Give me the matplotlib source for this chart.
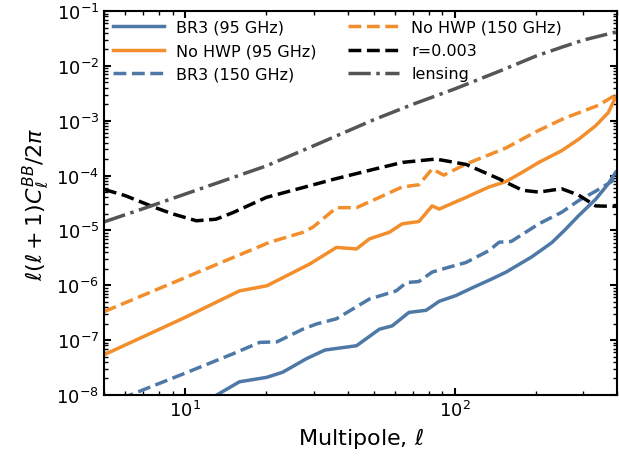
"""
Recreate the BB power spectrum comparison (BR3 vs No HWP, 95/150 GHz) on log-log axes.
Saves out.png.
"""

import matplotlib

matplotlib.use("Agg")
import matplotlib.pyplot as plt

# --- data -------------------------------------------------------------------
ell_lensing = [5, 7, 10, 20, 30, 50, 70, 100, 150, 200, 250, 300, 400]
cl_lensing = [1.43e-5, 2.5e-5, 4.6e-5, 1.5e-4, 3.5e-4, 1.04e-3, 2.0e-3,
              3.8e-3, 8.4e-3, 1.51e-2, 2.2e-2, 2.95e-2, 4.2e-2]

ell_r = [5, 6, 7.75, 9, 11, 13, 15, 20, 36, 50, 64, 85, 110, 146, 178,
         205, 249, 288, 333, 382, 400]
cl_r = [5.6e-5, 4.3e-5, 2.6e-5, 2.0e-5, 1.5e-5, 1.6e-5, 2.1e-5, 4.0e-5,
        8.7e-5, 1.3e-4, 1.74e-4, 2.0e-4, 1.6e-4, 8.7e-5, 5.4e-5, 5.0e-5,
        5.75e-5, 4.4e-5, 2.8e-5, 2.75e-5, 2.75e-5]

ell_nohwp150 = [5, 10, 20.6, 27.3, 29.8, 36.4, 43.2, 52.5, 63.8, 73.6, 82.4,
                91, 110, 146, 155, 200, 256, 340, 395]
cl_nohwp150 = [3.3e-7, 1.38e-6, 6.1e-6, 9.2e-6, 1.15e-5, 2.6e-5, 2.6e-5,
               4.0e-5, 6.2e-5, 6.8e-5, 1.32e-4, 1.02e-4, 1.62e-4, 2.84e-4,
               3.2e-4, 6.3e-4, 1.12e-3, 1.9e-3, 2.95e-3]

ell_nohwp95 = [5, 10, 15.9, 20.1, 29, 36.4, 43.2, 48.2, 57.3, 63.8, 73.6,
               82.4, 87.5, 110, 134, 155, 178, 205, 249, 288, 333, 371, 395]
cl_nohwp95 = [5.4e-8, 2.6e-7, 7.9e-7, 9.8e-7, 2.45e-6, 4.9e-6, 4.6e-6, 7.0e-6,
              9.3e-6, 1.32e-5, 1.45e-5, 2.8e-5, 2.45e-5, 4.0e-5, 6.2e-5,
              7.8e-5, 1.15e-4, 1.74e-4, 2.84e-4, 4.6e-4, 8.1e-4, 1.41e-3,
              2.7e-3]

ell_br3_150 = [5, 6.26, 10, 15, 18.9, 21.9, 27.3, 30.7, 36.4, 48.2, 60.6,
               66.2, 73.6, 82.4, 95.2, 110, 134, 146, 162, 205, 249, 288,
               333, 382, 395]
cl_br3_150 = [6.5e-9, 1.0e-8, 2.5e-8, 5.6e-8, 9.1e-8, 9.3e-8, 1.58e-7,
              1.97e-7, 2.45e-7, 5.6e-7, 7.9e-7, 1.12e-6, 1.17e-6, 1.74e-6,
              2.14e-6, 2.6e-6, 4.3e-6, 6.1e-6, 6.3e-6, 1.32e-5, 2.14e-5,
              3.5e-5, 5.2e-5, 7.8e-5, 1.07e-4]

ell_br3_95 = [5, 10, 13.1, 15.9, 20.1, 23, 28.2, 33, 43.2, 52.5, 58.6, 67.6,
              78.3, 87.5, 101, 115.6, 137, 155, 193, 229, 255, 288, 333, 371,
              395]
cl_br3_95 = [1.26e-9, 5.0e-9, 1.0e-8, 1.74e-8, 2.1e-8, 2.6e-8, 4.6e-8,
             6.6e-8, 7.9e-8, 1.58e-7, 1.82e-7, 3.2e-7, 3.5e-7, 5.1e-7,
             6.5e-7, 8.9e-7, 1.3e-6, 1.74e-6, 3.3e-6, 6.0e-6, 1.0e-5,
             1.86e-5, 3.7e-5, 7.1e-5, 1.15e-4]

BLUE = "#4e79a7"
ORANGE = "#f28e2b"
GREY = "#555555"
LW = 2.5


def main() -> None:
    fig = plt.figure(figsize=(6.19, 4.64), dpi=100)
    ax = fig.add_axes([0.168, 0.1466, 0.829, 0.8275])

    ax.plot(ell_br3_95, cl_br3_95, color=BLUE, lw=LW, label="BR3 (95 GHz)")
    ax.plot(ell_nohwp95, cl_nohwp95, color=ORANGE, lw=LW, label="No HWP (95 GHz)")
    ax.plot(ell_br3_150, cl_br3_150, color=BLUE, lw=LW, ls="--",
            label="BR3 (150 GHz)")
    ax.plot(ell_nohwp150, cl_nohwp150, color=ORANGE, lw=LW, ls="--",
            label="No HWP (150 GHz)")
    ax.plot(ell_r, cl_r, color="black", lw=LW, ls="--", label="r=0.003")
    ax.plot(ell_lensing, cl_lensing, color=GREY, lw=LW, ls="-.", label="lensing")

    ax.set_xscale("log")
    ax.set_yscale("log")
    ax.set_xlim(5, 400)
    ax.set_ylim(1e-8, 1e-1)

    ax.tick_params(which="both", direction="in", top=True, right=True,
                   labelsize=13)
    ax.tick_params(which="major", length=5, width=1.5)
    ax.tick_params(which="minor", length=3, width=1.0)
    for s in ax.spines.values():
        s.set_linewidth(1.5)

    ax.set_xlabel(r"Multipole, $\ell$", fontsize=16)
    ax.set_ylabel(r"$\ell(\ell+1)C_\ell^{BB}/2\pi$", fontsize=16)

    ax.legend(loc="upper left", ncol=2, frameon=False, fontsize=11.5,
              handlelength=3.2, handletextpad=0.75, columnspacing=2.0,
              labelspacing=0.52, borderaxespad=0.15)

    fig.savefig("out.png", dpi=100)
    plt.close(fig)


if __name__ == "__main__":
    main()
